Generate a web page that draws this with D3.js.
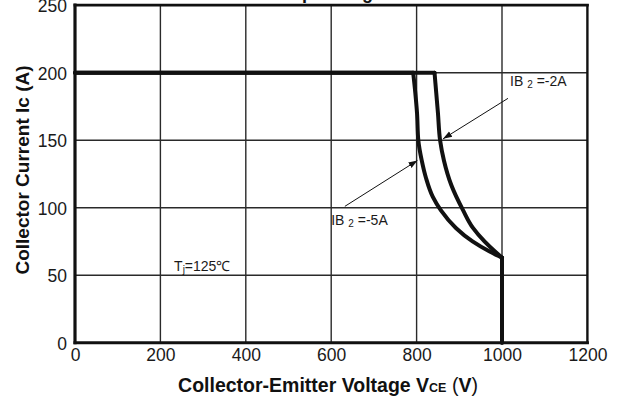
<!DOCTYPE html>
<html>
<head>
<meta charset="utf-8">
<script src="https://cdn.jsdelivr.net/npm/d3@7"></script>
<style>
  body { margin: 0; background: #fff; }
  svg { display: block; font-family: "Liberation Sans", Arial, sans-serif; }
  .tick text { font-size: 17.5px; fill: #1a1a1a; }
  .axisTitle { font-size: 19.5px; font-weight: bold; fill: #111; }
  .note { font-size: 14px; fill: #1a1a1a; }
</style>
</head>
<body>
<svg width="619" height="400"></svg>
<script>
  // tick values
  var xTicks = [0, 200, 400, 600, 800, 1000, 1200];
  var yTicks = [0, 50, 100, 150, 200, 250];

  // IB2 = -5A curve (VCE in V, Ic in A)
  var vce5 = [0, 792, 797, 801, 804, 812, 822, 838, 857, 892, 931, 970, 1000, 1000];
  var ic5  = [200, 200, 185, 170, 150, 135, 122, 108, 98, 85, 75, 67.7, 63, 0];

  // IB2 = -2A curve
  var vce2 = [0, 842, 846, 850, 855, 864, 881, 909, 932, 959, 983, 1000, 1000];
  var ic2  = [200, 200, 185, 170, 150, 135, 117, 98, 85, 75, 67.7, 63, 0];

  var svg = d3.select('svg');
  var width = +svg.attr('width');
  var height = +svg.attr('height');

  var margin = { top: 5.2, right: 31.6, bottom: 57.3, left: 75 };

  var x = d3.scaleLinear()
    .domain([0, 1200])
    .range([margin.left, width - margin.right]);

  var y = d3.scaleLinear()
    .domain([0, 250])
    .range([height - margin.bottom, margin.top]);

  // title, mostly cut off by the top edge in the original
  var title = svg.append('text')
    .attr('class', 'axisTitle')
    .style('font-size', '18px')
    .attr('y', -1.5)
    .text('Reverse Bias Safe Operating Area');
  var pIdx = title.text().indexOf('p');
  var pOff = title.node().getSubStringLength(0, pIdx);
  title.attr('x', 302 - pOff);

  // grid
  var grid = svg.append('g');
  grid.selectAll('line.v')
    .data(xTicks.slice(1, -1))
    .join('line')
    .attr('class', 'v')
    .attr('x1', function (d) { return x(d); })
    .attr('x2', function (d) { return x(d); })
    .attr('y1', y(250))
    .attr('y2', y(0))
    .attr('stroke', '#2a2a2a')
    .attr('stroke-width', 1.4);

  grid.selectAll('line.h')
    .data(yTicks.slice(1, -1))
    .join('line')
    .attr('class', 'h')
    .attr('x1', x(0))
    .attr('x2', x(1200))
    .attr('y1', function (d) { return y(d); })
    .attr('y2', function (d) { return y(d); })
    .attr('stroke', '#2a2a2a')
    .attr('stroke-width', 1.4);

  // frame
  var frame = svg.append('g')
    .attr('stroke', '#111')
    .attr('stroke-linecap', 'square');
  frame.append('line')
    .attr('x1', x(0)).attr('x2', x(1200))
    .attr('y1', y(250)).attr('y2', y(250))
    .attr('stroke-width', 2.8);
  frame.append('line')
    .attr('x1', x(0)).attr('x2', x(1200))
    .attr('y1', y(0)).attr('y2', y(0))
    .attr('stroke-width', 3);
  frame.append('line')
    .attr('x1', x(0)).attr('x2', x(0))
    .attr('y1', y(250)).attr('y2', y(0))
    .attr('stroke-width', 3.2);
  frame.append('line')
    .attr('x1', x(1200)).attr('x2', x(1200))
    .attr('y1', y(250)).attr('y2', y(0))
    .attr('stroke-width', 2.4);

  // axes (labels only)
  var xAxis = svg.append('g')
    .attr('transform', 'translate(0,' + y(0) + ')')
    .call(d3.axisBottom(x).tickValues(xTicks).tickFormat(d3.format('d'))
      .tickSize(0).tickPadding(6));
  xAxis.select('.domain').remove();
  xAxis.selectAll('text').attr('font-family', null).attr('font-size', null);

  var yAxis = svg.append('g')
    .attr('transform', 'translate(' + x(0) + ',0)')
    .call(d3.axisLeft(y).tickValues(yTicks).tickFormat(d3.format('d'))
      .tickSize(0).tickPadding(8));
  yAxis.select('.domain').remove();
  yAxis.selectAll('text').attr('font-family', null).attr('font-size', null)
    .attr('dy', '0.36em');

  // curves
  function drawSeries(vs, is) {
    var pts = vs.map(function (v, i) { return [x(v), y(is[i])]; });
    var n = pts.length;
    var flat = pts.slice(0, 2);
    var fall = pts.slice(1, n - 1);
    var drop = pts.slice(n - 2);

    var g = svg.append('g')
      .attr('fill', 'none')
      .attr('stroke', '#111')
      .attr('stroke-width', 4)
      .attr('stroke-linecap', 'round')
      .attr('stroke-linejoin', 'round');

    g.append('path').attr('d', d3.line()(flat));
    g.append('path').attr('d', d3.line().curve(d3.curveMonotoneY)(fall));
    g.append('path').attr('d', d3.line()(drop));
  }
  drawSeries(vce2, ic2);
  drawSeries(vce5, ic5);

  // annotations
  svg.append('defs').append('marker')
    .attr('id', 'arr')
    .attr('viewBox', '0 0 10 10')
    .attr('refX', 10)
    .attr('refY', 5)
    .attr('markerWidth', 9)
    .attr('markerHeight', 9)
    .attr('markerUnits', 'userSpaceOnUse')
    .attr('orient', 'auto')
    .append('path')
    .attr('d', 'M0,1.5 L10,5 L0,8.5 Z')
    .attr('fill', '#111');

  function arrow(v0, i0, v1, i1) {
    svg.append('line')
      .attr('x1', x(v0)).attr('y1', y(i0))
      .attr('x2', x(v1)).attr('y2', y(i1))
      .attr('stroke', '#111')
      .attr('stroke-width', 1)
      .attr('marker-end', 'url(#arr)');
  }
  arrow(1014, 181, 862, 151);
  arrow(632, 101, 802, 135);

  function ibLabel(v, i, val) {
    var t = svg.append('text')
      .attr('class', 'note')
      .attr('x', x(v))
      .attr('y', y(i));
    t.append('tspan').text('IB ');
    t.append('tspan').attr('font-size', 10).attr('dy', 2).text('2');
    t.append('tspan').attr('dy', -2).text(' =' + val);
  }
  ibLabel(1019, 190, '-2A');
  ibLabel(600, 87, '-5A');

  var tj = svg.append('text')
    .attr('class', 'note')
    .attr('x', x(232))
    .attr('y', y(53));
  tj.append('tspan').text('T');
  tj.append('tspan').attr('font-size', 10).attr('dy', 2).text('j');
  tj.append('tspan').attr('dy', -2).text('=125℃');

  // axis titles
  var xt = svg.append('text')
    .attr('class', 'axisTitle')
    .attr('x', 328)
    .attr('y', 392)
    .attr('text-anchor', 'middle');
  xt.append('tspan').text('Collector-Emitter Voltage V');
  xt.append('tspan').attr('font-size', 12.5).text('CE');
  xt.append('tspan').attr('font-weight', 'normal').text(' (');
  xt.append('tspan').text('V');
  xt.append('tspan').attr('font-weight', 'normal').text(')');

  svg.append('text')
    .attr('class', 'axisTitle')
    .style('font-size', '19px')
    .attr('transform', 'translate(29,170) rotate(-90)')
    .attr('text-anchor', 'middle')
    .text('Collector Current Ic (A)');
</script>
</body>
</html>
